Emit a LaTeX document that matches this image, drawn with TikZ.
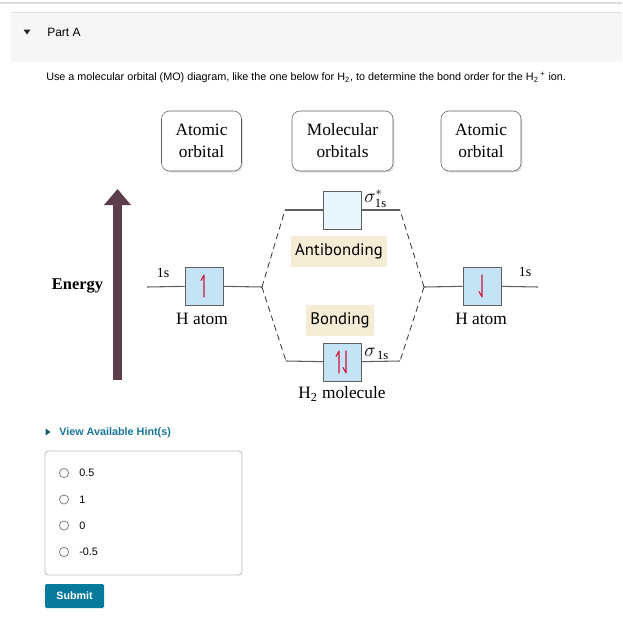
\documentclass[tikz,border=0pt]{standalone}
\usepackage{amsmath}
\usepackage{fontspec}
\setmainfont{Liberation Sans}
\newfontfamily\diagserif{Liberation Serif}
\newfontfamily\diagsans{PT Sans}
\usetikzlibrary{arrows.meta,shadows,calc}

\definecolor{ruleGray}{RGB}{221,221,221}
\definecolor{panelGray}{RGB}{246,246,246}
\definecolor{boxLine}{RGB}{95,95,95}
\definecolor{orbBlue}{RGB}{196,228,245}
\definecolor{orbPale}{RGB}{234,246,253}
\definecolor{tagBeige}{RGB}{244,236,212}
\definecolor{spinRed}{RGB}{206,22,56}
\definecolor{energyPlum}{RGB}{92,61,76}
\definecolor{linkTeal}{RGB}{23,118,152}
\definecolor{btnTeal}{RGB}{8,122,156}

\tikzset{
  uitext/.style={inner sep=0pt,font=\fontsize{8.1}{10}\selectfont},
  titlebox/.style={draw=boxLine,fill=white,rounded corners=6pt,minimum width=60pt,minimum height=45pt,align=center,
    font=\diagserif\fontsize{13}{16.5}\selectfont,drop shadow={shadow xshift=1pt,shadow yshift=-1.2pt,opacity=0.25}},
  orb/.style={draw=boxLine,fill=orbBlue,minimum size=28.5pt,inner sep=0pt},
  tag/.style={fill=tagBeige,minimum height=23pt,font=\diagsans\fontsize{12.5}{14}\selectfont},
  level/.style={draw=boxLine,line width=0.8pt},
  corr/.style={draw=black!80,line width=0.6pt,dash pattern=on 4.5pt off 3pt},
  spin/.style={draw=spinRed,line width=0.8pt,line cap=round,line join=round},
  serif/.style={inner sep=0pt,font=\diagserif\fontsize{13}{15}\selectfont},
  radio/.style={draw=black!50,fill=white,line width=0.6pt},
}
\newcommand{\orbsub}{\text{\diagserif 1s}}

\begin{document}
\begin{tikzpicture}[x=0.75pt,y=0.75pt,yscale=-1,xscale=1]
\useasboundingbox (0,0) rectangle (622,628);

%top rule and header panel
\draw [ruleGray,line width=0.8pt] (0,3) -- (622,3);
\fill [panelGray] (11,12) rectangle (622,62);
\draw [black!12,line width=0.6pt] (11,12) -- (622,12);
\fill [black!85] (23.5,29.5) -- (30.5,29.5) -- (27,34.5) -- cycle;
\node [uitext,anchor=west,font=\fontsize{9}{10}\selectfont] (partA) at (47,32) {Part A};

% Question text
\node [uitext,anchor=west] (question) at (46,77.5) {Use a molecular orbital (MO) diagram, like the one below for H\textsubscript{2}, to determine the bond order for the H\textsubscript{2}\,\textsuperscript{+} ion.};

%title boxes
\node [titlebox] (atomL) at (201.5,141) {Atomic\\orbital};
\node [titlebox,minimum width=75.75pt] (molec) at (342.5,141) {Molecular\\orbitals};
\node [titlebox] (atomR) at (481,141) {Atomic\\orbital};

%Energy arrow
\coordinate (ebot) at (117.5,380);
\coordinate (etop) at (117.5,189);
\draw [energyPlum,line width=6.75pt,-{Triangle[width=19.5pt,length=12pt]}] (ebot) -- (etop);
\node [serif,font=\diagserif\bfseries\fontsize{12.3}{15}\selectfont] (energy) at (77.5,286) {Energy};

%orbital boxes
\node [orb] (hL) at (204,286) {};
\node [orb] (hR) at (482,286) {};
\node [orb,fill=orbPale] (anti) at (342.5,210) {};
\node [orb] (bond) at (342.5,362) {};

%level lines
\coordinate (sL) at (147,287);
\coordinate (sR) at (538,287);
\coordinate (jL) at (262,287);
\coordinate (jR) at (424,287);
\coordinate (aL) at (285,210);
\coordinate (aR) at (400,210);
\coordinate (bL) at (286,361);
\coordinate (bR) at (400,361);
\draw [level] (sL) -- (hL);
\draw [level] (hL) -- (jL);
\draw [level] (jR) -- (hR);
\draw [level] (hR) -- (sR);
\draw [level] (aL) -- (anti) -- (aR);
\draw [level] (bL) -- (bond) -- (bR);

%correlation lines
\draw [corr] (jL) -- (aL);
\draw [corr] (jL) -- (bL);
\draw [corr] (jR) -- (aR);
\draw [corr] (jR) -- (bR);

%electrons
\draw [spin] ($(hL)+(0,11)$) -- ($(hL)+(0,-11)$) -- ($(hL)+(-3,-5.5)$);
\draw [spin] ($(hR)+(0,-11)$) -- ($(hR)+(0,11)$) -- ($(hR)+(-3,5.5)$);
\draw [spin] ($(bond)+(-3.5,11)$) -- ($(bond)+(-3.5,-11)$) -- ($(bond)+(-6.5,-5.5)$);
\draw [spin] ($(bond)+(3.5,-11)$) -- ($(bond)+(3.5,11)$) -- ($(bond)+(0.5,5.5)$);

%tags
\node [tag,minimum width=72pt] (antiTag) at (339,251.5) {Antibonding};
\node [tag,minimum width=49.5pt] (bondTag) at (340,320.5) {Bonding};

% Text Node
\node [serif,font=\diagserif\fontsize{10.5}{12}\selectfont] (sL1s) at (163,273) {1s};
\node [serif,font=\diagserif\fontsize{10.5}{12}\selectfont] (sR1s) at (525,272) {1s};
\node [serif] (hLlab) at (202,319) {H atom};
\node [serif] (hRlab) at (481,319) {H atom};
\node [serif] (h2lab) at (342,394) {H\textsubscript{2} molecule};
\node [serif,anchor=west,font=\fontsize{13.5}{15}\selectfont] (sigStar) at (364,199) {$\sigma^{*}_{\orbsub}$};
\node [serif,anchor=west,font=\fontsize{13.5}{15}\selectfont] (sig) at (364,354) {$\sigma_{\,\orbsub}$};

%hints
\fill [linkTeal!70!black] (45.5,428.5) -- (50.5,432) -- (45.5,435.5) -- cycle;
\node [uitext,anchor=west,font=\bfseries\fontsize{8.1}{10}\selectfont,text=linkTeal] (hint) at (59,432.5) {View Available Hint(s)};

%answer box
\draw [black!25,line width=0.7pt,rounded corners=2.5pt] (45,451) rectangle (242,575);
\foreach \y/\v in {473/0.5,499.5/1,525.5/0,552/-0.5}{
  \draw [radio] (64,\y) circle (4.6);
  \node [uitext,anchor=west] at (79,\y) {\v};
}

%submit button
\fill [btnTeal,rounded corners=1pt] (45,584) rectangle (104,608);
\node [uitext,text=white,font=\bfseries\fontsize{8}{9}\selectfont] (submit) at (74.5,596) {Submit};

\end{tikzpicture}
\end{document}
